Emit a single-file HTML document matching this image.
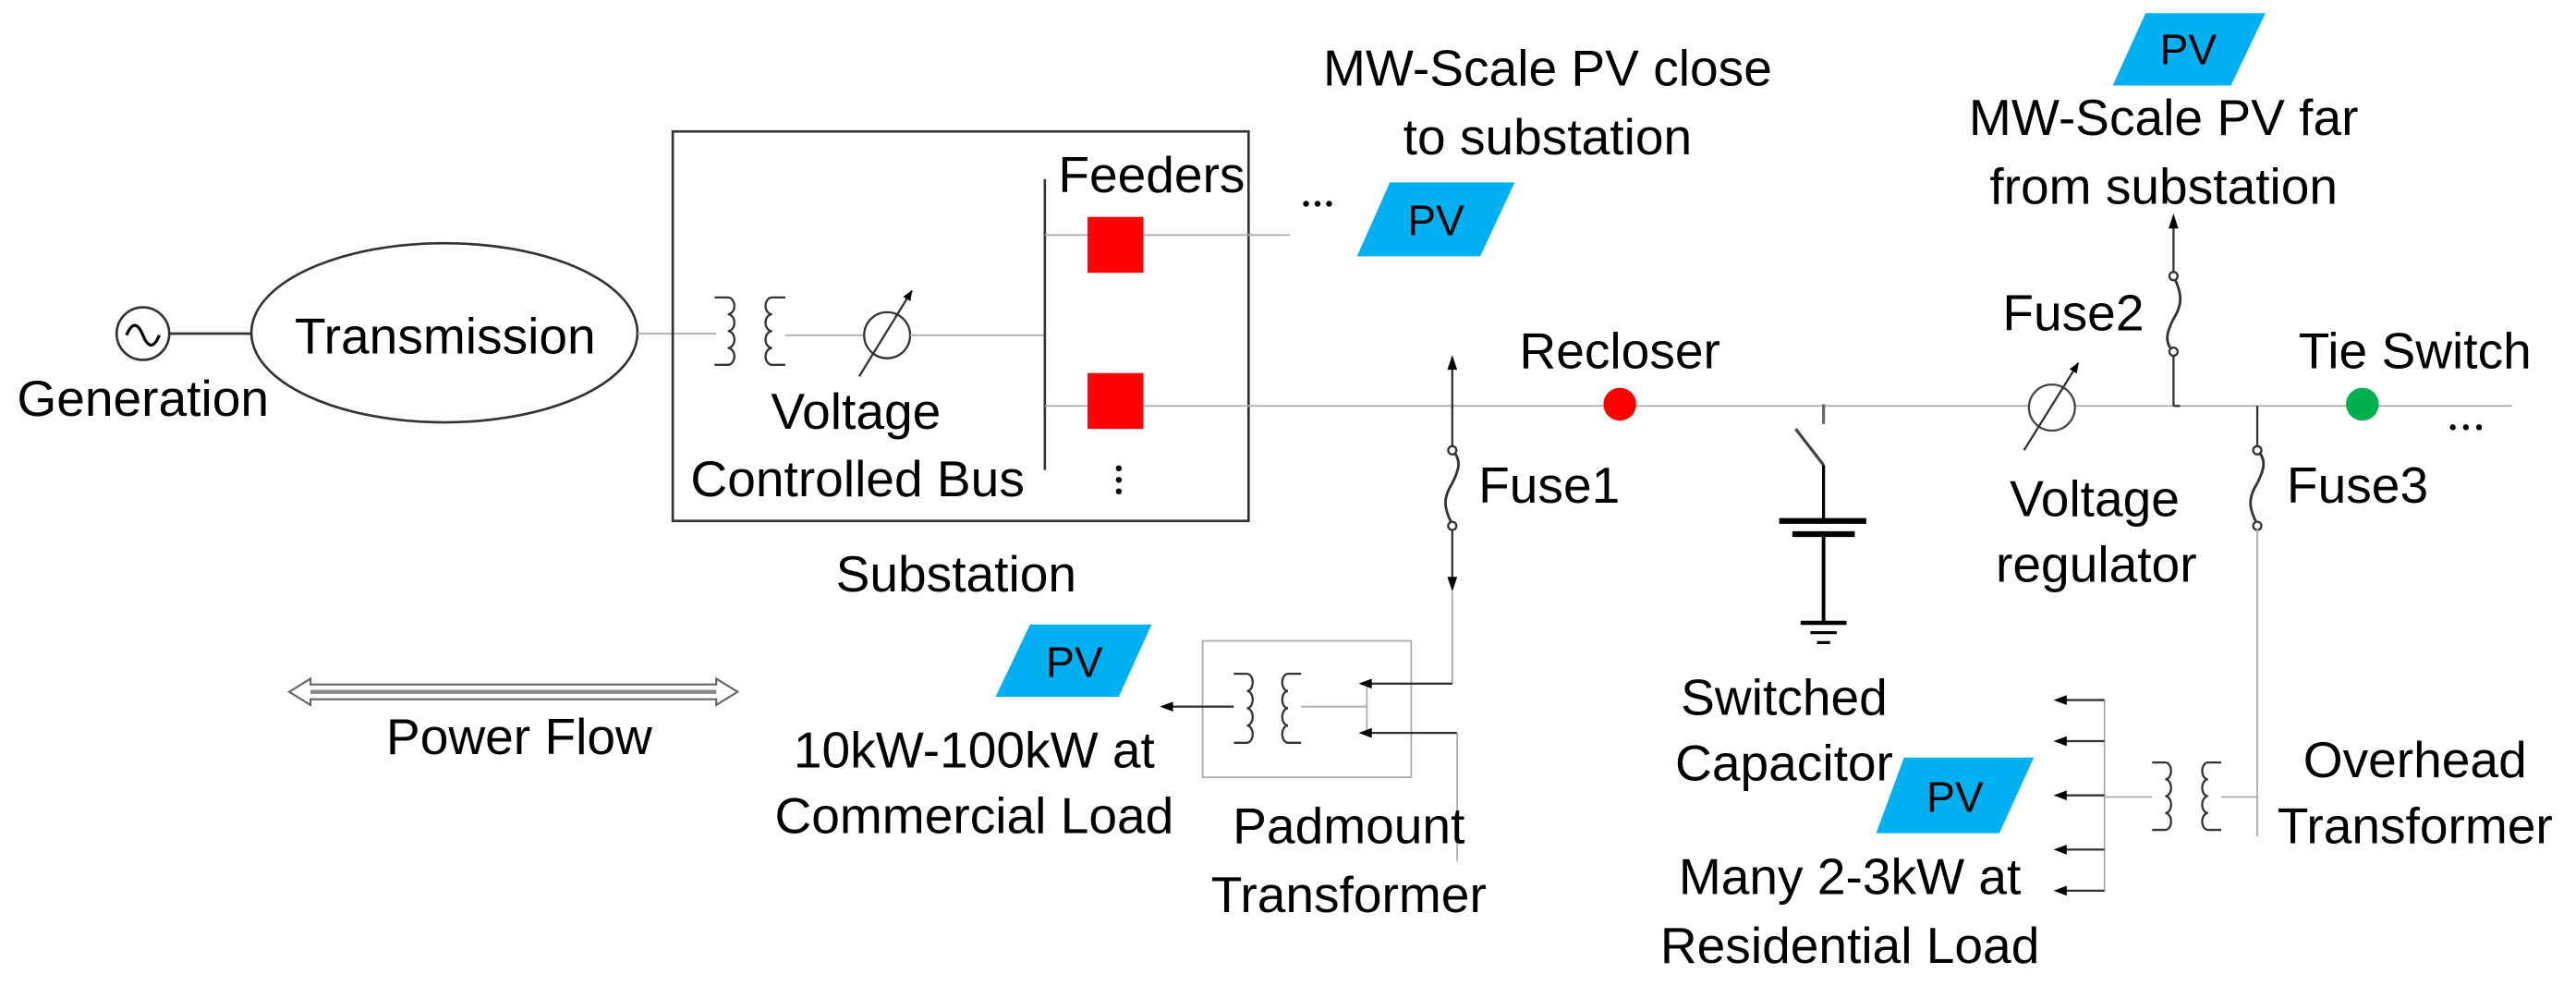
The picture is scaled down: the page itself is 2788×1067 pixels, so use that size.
<!DOCTYPE html>
<html><head><meta charset="utf-8"><style>
html,body{margin:0;padding:0;background:#fff;}
svg{display:block}
text{font-family:"Liberation Sans",sans-serif;font-size:31px;fill:#000;text-anchor:middle}
text.pv{font-size:26px}
</style></head><body>
<svg width="2788" height="1067" viewBox="0 0 1568 600" preserveAspectRatio="none" xmlns="http://www.w3.org/2000/svg">
<defs>
<marker id="ah" viewBox="0 0 10 10" refX="9" refY="5" markerWidth="5" markerHeight="5" orient="auto"><path d="M0,1 L10,5 L0,9 z" fill="#000"/></marker>
</defs>
<!-- generator -->
<circle cx="87" cy="203" r="16" fill="none" stroke="#333" stroke-width="1.5"/>
<path d="M77,204 q5,-12 10,0 q5,12 10,0" fill="none" stroke="#000" stroke-width="1.8"/>
<line x1="103" y1="203" x2="153" y2="203" stroke="#333" stroke-width="1.5"/>
<text x="87" y="253">Generation</text>
<ellipse cx="270.5" cy="202.5" rx="117.5" ry="54.5" fill="none" stroke="#333" stroke-width="1.5"/>
<text x="271" y="215">Transmission</text>
<line x1="388" y1="203" x2="436" y2="203" stroke="#aaa" stroke-width="1"/>
<!-- substation -->
<rect x="409.5" y="80" width="350.5" height="237" fill="none" stroke="#333" stroke-width="1.5"/>
<g fill="none" stroke="#333" stroke-width="1.3">
<path d="M435,181 h8 a4,5.1 0 0 1 0,10.25 a4,5.1 0 0 1 0,10.25 a4,5.1 0 0 1 0,10.25 a4,5.1 0 0 1 0,10.25 h-8"/>
<path d="M478,181 h-8 a4,5.1 0 0 0 0,10.25 a4,5.1 0 0 0 0,10.25 a4,5.1 0 0 0 0,10.25 a4,5.1 0 0 0 0,10.25 h8"/>
</g>
<line x1="478" y1="204" x2="526" y2="204" stroke="#aaa"/>
<circle cx="540" cy="204" r="14" fill="none" stroke="#333" stroke-width="1.3"/>
<line x1="523" y1="229" x2="555" y2="177" stroke="#333" stroke-width="1.3" marker-end="url(#ah)"/>
<line x1="554" y1="204" x2="636" y2="204" stroke="#aaa"/>
<line x1="636" y1="109" x2="636" y2="286" stroke="#333" stroke-width="1.5"/>
<line x1="636" y1="143" x2="785" y2="143" stroke="#aaa"/>
<line x1="636" y1="247" x2="1529" y2="247" stroke="#aaa"/>
<rect x="662" y="132" width="34" height="34" fill="#f00"/>
<rect x="662" y="227" width="34" height="34" fill="#f00"/>
<text x="701" y="117">Feeders</text>
<g fill="#000"><circle cx="681" cy="285" r="1.8"/><circle cx="681" cy="292" r="1.8"/><circle cx="681" cy="299" r="1.8"/></g>
<text x="521" y="261">Voltage</text>
<text x="522" y="302">Controlled Bus</text>
<text x="582" y="360">Substation</text>
<g fill="#000"><circle cx="795" cy="124" r="1.8"/><circle cx="802" cy="124" r="1.8"/><circle cx="809" cy="124" r="1.8"/></g>
<!-- PV shapes -->
<g fill="#00b0f0">
<polygon points="846,111 922,111 901,156 826,156"/>
<polygon points="1306,8 1379,8 1358,52 1286,52"/>
<polygon points="627,380 701,380 681,424 606,424"/>
<polygon points="1159,461 1238,461 1217,507 1142,507"/>
</g>
<text class="pv" x="874" y="143">PV</text>
<text class="pv" x="1332" y="39">PV</text>
<text class="pv" x="654" y="412">PV</text>
<text class="pv" x="1190" y="494">PV</text>
<text x="942" y="52">MW-Scale PV close</text>
<text x="942" y="94">to substation</text>
<text x="1317" y="82">MW-Scale PV far</text>
<text x="1317" y="124">from substation</text>
<!-- Fuse1 -->
<line x1="884" y1="219" x2="884" y2="272" stroke="#333" stroke-width="1.3"/>
<polygon points="884,216 881,225 887,225" fill="#000"/>
<path d="M884,274 c6,6 4,12 0,20 c-5,8 -6,14 0,25" fill="none" stroke="#333" stroke-width="1.6"/>
<circle cx="884" cy="274" r="2.5" fill="#fff" stroke="#333" stroke-width="1.3"/><circle cx="884" cy="320" r="2.5" fill="#fff" stroke="#333" stroke-width="1.3"/>
<line x1="884" y1="322" x2="884" y2="356" stroke="#333" stroke-width="1.3"/>
<polygon points="884,360 881,351 887,351" fill="#000"/>
<line x1="884" y1="360" x2="884" y2="416" stroke="#aaa"/>
<text x="943" y="306">Fuse1</text>
<!-- recloser -->
<circle cx="986" cy="246" r="10" fill="#f00"/>
<text x="986" y="224">Recloser</text>
<!-- capacitor -->
<g stroke="#000" stroke-width="1.8">
<line x1="1110" y1="246" x2="1110" y2="258" stroke="#666"/>
<line x1="1093" y1="261" x2="1110" y2="283" stroke="#444"/>
<line x1="1110" y1="283" x2="1110" y2="317"/>
<line x1="1083" y1="317" x2="1136" y2="317" stroke-width="3.5"/>
<line x1="1091" y1="325" x2="1129" y2="325" stroke-width="3.5"/>
<line x1="1110" y1="325" x2="1110" y2="379" stroke-width="2.2"/>
<line x1="1096" y1="379" x2="1124" y2="379" stroke-width="2.5"/>
<line x1="1102" y1="385" x2="1118" y2="385"/>
<line x1="1106" y1="391" x2="1114" y2="391"/>
</g>
<text x="1086" y="435">Switched</text>
<text x="1086" y="475">Capacitor</text>
<!-- regulator -->
<circle cx="1249" cy="248" r="14" fill="#fff" stroke="#444" stroke-width="1.3"/>
<line x1="1232" y1="274" x2="1265" y2="221" stroke="#333" stroke-width="1.3" marker-end="url(#ah)"/>
<text x="1275" y="314">Voltage</text>
<text x="1276" y="354">regulator</text>
<!-- fuse2 -->
<line x1="1323" y1="247" x2="1323" y2="214" stroke="#333" stroke-width="1.3"/>
<line x1="1323" y1="247" x2="1327" y2="247" stroke="#333" stroke-width="1.3"/>
<path d="M1323,214 c-6,-6 -4,-12 0,-20 c5,-8 6,-14 0,-26" fill="none" stroke="#333" stroke-width="1.6"/>
<circle cx="1323" cy="214" r="2.5" fill="#fff" stroke="#333" stroke-width="1.3"/><circle cx="1323" cy="168" r="2.5" fill="#fff" stroke="#333" stroke-width="1.3"/>
<line x1="1323" y1="166" x2="1323" y2="134" stroke="#333" stroke-width="1.3"/>
<polygon points="1323,130 1320,139 1326,139" fill="#000"/>
<text x="1262" y="201">Fuse2</text>
<!-- fuse3 -->
<line x1="1374" y1="247" x2="1374" y2="274" stroke="#333" stroke-width="1.3"/>
<path d="M1374,274 c6,6 4,12 0,20 c-5,8 -6,14 0,25" fill="none" stroke="#333" stroke-width="1.6"/>
<circle cx="1374" cy="274" r="2.5" fill="#fff" stroke="#333" stroke-width="1.3"/><circle cx="1374" cy="320" r="2.5" fill="#fff" stroke="#333" stroke-width="1.3"/>
<line x1="1374" y1="322" x2="1374" y2="509" stroke="#aaa"/>
<text x="1435" y="306">Fuse3</text>
<!-- tie switch -->
<circle cx="1438" cy="246" r="10" fill="#00b050"/>
<text x="1470" y="224">Tie Switch</text>
<g fill="#000"><circle cx="1493" cy="260" r="1.8"/><circle cx="1501" cy="260" r="1.8"/><circle cx="1509" cy="260" r="1.8"/></g>
<!-- padmount -->
<rect x="732" y="390" width="127" height="83" fill="none" stroke="#aaa"/>
<g fill="none" stroke="#333" stroke-width="1.3">
<path d="M751,410 h8 a3.5,5.25 0 0 1 0,10.5 a3.5,5.25 0 0 1 0,10.5 a3.5,5.25 0 0 1 0,10.5 a3.5,5.25 0 0 1 0,10.5 h-8"/>
<path d="M792,410 h-8 a3.5,5.25 0 0 0 0,10.5 a3.5,5.25 0 0 0 0,10.5 a3.5,5.25 0 0 0 0,10.5 a3.5,5.25 0 0 0 0,10.5 h8"/>
</g>
<line x1="751" y1="430" x2="710" y2="430" stroke="#333" stroke-width="1.3"/>
<polygon points="706,430 714,427 714,433" fill="#000"/>
<line x1="792" y1="430" x2="832" y2="430" stroke="#aaa"/>
<line x1="832" y1="416" x2="832" y2="446" stroke="#aaa"/>
<line x1="884" y1="416" x2="831" y2="416" stroke="#333" stroke-width="1.3"/>
<polygon points="827,416 835,413 835,419" fill="#000"/>
<line x1="887" y1="446" x2="831" y2="446" stroke="#333" stroke-width="1.3"/>
<polygon points="827,446 835,443 835,449" fill="#000"/>
<line x1="887" y1="446" x2="887" y2="524" stroke="#aaa"/>
<text x="593" y="467">10kW-100kW at</text>
<text x="593" y="507">Commercial Load</text>
<text x="821" y="513">Padmount</text>
<text x="821" y="555">Transformer</text>
<!-- power flow -->
<g fill="#fff" stroke="#666" stroke-width="1.2">
<polygon points="176,421 189,413 189,416.5 436,416.5 436,413 449,421 436,429 436,425.5 189,425.5 189,429"/>
</g>
<line x1="189" y1="421" x2="436" y2="421" stroke="#888" stroke-width="2.5"/>
<text x="316" y="459">Power Flow</text>
<!-- residential -->
<line x1="1281" y1="426" x2="1281" y2="542" stroke="#aaa"/>
<g stroke="#333" stroke-width="1.3">
<line x1="1281" y1="426" x2="1254" y2="426"/>
<line x1="1281" y1="451" x2="1254" y2="451"/>
<line x1="1281" y1="484" x2="1254" y2="484"/>
<line x1="1281" y1="517" x2="1254" y2="517"/>
<line x1="1281" y1="542" x2="1254" y2="542"/>
</g>
<g fill="#000">
<polygon points="1250,426 1258,423 1258,429"/>
<polygon points="1250,451 1258,448 1258,454"/>
<polygon points="1250,484 1258,481 1258,487"/>
<polygon points="1250,517 1258,514 1258,520"/>
<polygon points="1250,542 1258,539 1258,545"/>
</g>
<line x1="1281" y1="485" x2="1310" y2="485" stroke="#aaa"/>
<g fill="none" stroke="#333" stroke-width="1.3">
<path d="M1310,464 h8 a3.5,5.1 0 0 1 0,10.25 a3.5,5.1 0 0 1 0,10.25 a3.5,5.1 0 0 1 0,10.25 a3.5,5.1 0 0 1 0,10.25 h-8"/>
<path d="M1352,464 h-8 a3.5,5.1 0 0 0 0,10.25 a3.5,5.1 0 0 0 0,10.25 a3.5,5.1 0 0 0 0,10.25 a3.5,5.1 0 0 0 0,10.25 h8"/>
</g>
<line x1="1352" y1="485" x2="1374" y2="485" stroke="#aaa"/>
<text x="1126" y="544">Many 2-3kW at</text>
<text x="1126" y="586">Residential Load</text>
<text x="1470" y="473">Overhead</text>
<text x="1470" y="513">Transformer</text>
</svg>
</body></html>
